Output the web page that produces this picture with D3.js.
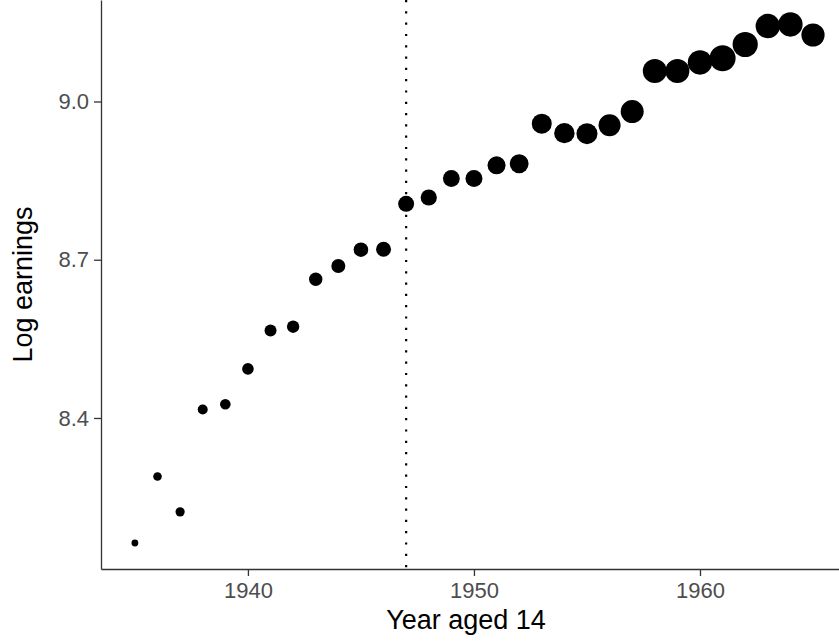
<!DOCTYPE html>
<html>
<head>
<meta charset="utf-8">
<title>log earnings</title>
<script src="https://cdn.jsdelivr.net/npm/d3@7"></script>
<style>
  body { margin: 0; background: #fff; }
  svg { display: block; font-family: "Liberation Sans", Arial, sans-serif; }
</style>
</head>
<body>
<div id="chart"></div>
<script>
/* data */
var years = [1935, 1936, 1937, 1938, 1939, 1940, 1941, 1942, 1943, 1944, 1945,
             1946, 1947, 1948, 1949, 1950, 1951, 1952, 1953, 1954, 1955, 1956,
             1957, 1958, 1959, 1960, 1961, 1962, 1963, 1964, 1965];
var logEarnings = [8.163, 8.289, 8.222, 8.416, 8.426, 8.493, 8.566, 8.573, 8.663, 8.688, 8.719,
                   8.720, 8.806, 8.818, 8.854, 8.854, 8.879, 8.882, 8.958, 8.940, 8.939, 8.955,
                   8.981, 9.058, 9.058, 9.074, 9.082, 9.108, 9.143, 9.146, 9.126];
var sampleSize = [231, 370, 423, 500, 562, 673, 720, 769, 898, 980, 1066,
                  1125, 1280, 1312, 1411, 1445, 1620, 1767, 2000, 2081, 2205, 2420,
                  2645, 2880, 2880, 2977, 3380, 3175, 2977, 2977, 2691];
var cutoffYear = 1947;
var xTicks = [1940, 1950, 1960];
var yTicks = [8.4, 8.7, 9.0];

/* layout */
var total_width = 839, total_height = 644;
var panel = {left: 101, right: 839, top: 0, bottom: 569};

var points = years.map(function(d, i) {
    return {year: d, y: logEarnings[i], n: sampleSize[i]};
});

var svg = d3.select("#chart").append("svg")
    .attr("width", total_width)
    .attr("height", total_height);

/* scales (panel is cropped on the top and right) */
var x = d3.scaleLinear().domain([1933.5, 1966.15]).range([panel.left, panel.right]);
var y = d3.scaleLinear().domain([8.1137, 9.1924]).range([panel.bottom, panel.top]);
var r = d3.scaleSqrt().domain([0, d3.max(sampleSize)]).range([0, 13]);

/* cutoff line */
svg.append("line")
    .attr("x1", x(cutoffYear)).attr("x2", x(cutoffYear))
    .attr("y1", panel.top).attr("y2", panel.bottom)
    .attr("stroke", "#000")
    .attr("stroke-width", 2.2)
    .attr("stroke-dasharray", "2.2 9.1");

/* points */
svg.append("g").selectAll("circle")
    .data(points)
    .enter().append("circle")
    .attr("cx", function(d) { return x(d.year); })
    .attr("cy", function(d) { return y(d.y); })
    .attr("r", function(d) { return r(d.n); })
    .attr("fill", "#000");

/* axes */
var xAxis = svg.append("g")
    .attr("transform", "translate(0," + panel.bottom + ")")
    .call(d3.axisBottom(x).tickValues(xTicks).tickFormat(d3.format("d"))
        .tickSizeInner(7).tickSizeOuter(0).tickPadding(6));
var yAxis = svg.append("g")
    .attr("transform", "translate(" + panel.left + ",0)")
    .call(d3.axisLeft(y).tickValues(yTicks).tickFormat(d3.format(".1f"))
        .tickSizeInner(7).tickSizeOuter(0).tickPadding(5));

[xAxis, yAxis].forEach(function(a) {
    a.select(".domain").attr("stroke", "#333").attr("stroke-width", 1.3);
    a.selectAll(".tick line").attr("stroke", "#333").attr("stroke-width", 1.3);
    a.selectAll(".tick text").attr("fill", "#4d4d4d").style("font-size", "22px").style("font-family", "inherit");
});

/* axis titles */
svg.append("text")
    .attr("x", 466)
    .attr("y", 629)
    .attr("text-anchor", "middle")
    .style("font-size", "27px")
    .text("Year aged 14");

svg.append("text")
    .attr("transform", "translate(32,284.5) rotate(-90)")
    .attr("text-anchor", "middle")
    .style("font-size", "27px")
    .text("Log earnings");
</script>
</body>
</html>
